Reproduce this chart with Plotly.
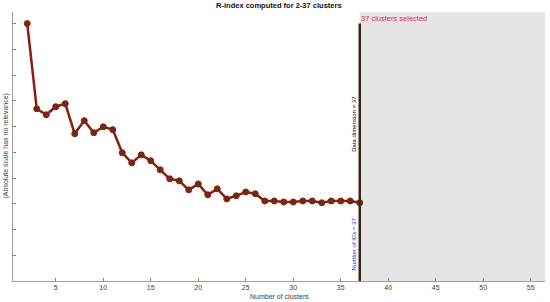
import plotly.graph_objects as go

# R-index per number of clusters (arbitrary units)
n_clusters = list(range(2, 38))
r_index = [10.0, 6.69, 6.46, 6.77, 6.89, 5.72, 6.23, 5.76, 5.99, 5.88,
           4.98, 4.59, 4.90, 4.67, 4.32, 3.97, 3.89, 3.54, 3.77, 3.35,
           3.58, 3.19, 3.31, 3.46, 3.39, 3.11, 3.11, 3.07, 3.07, 3.11,
           3.11, 3.04, 3.11, 3.11, 3.11, 3.04]
selected = 37
x_ticks = [5, 10, 15, 20, 25, 30, 35, 40, 45, 50, 55]
y_ticks = list(range(0, 11))

FONT = "Liberation Sans, Arial, sans-serif"

fig = go.Figure()

fig.add_trace(go.Scatter(
    x=n_clusters, y=r_index,
    mode="lines+markers",
    line={"color": "#8b1e0e", "width": 2.5},
    marker={"size": 6, "color": "#6a2e10", "line": {"color": "#8b1e0e", "width": 1}},
    showlegend=False,
    hoverinfo="x+y",
))

# zone beyond the selected number of clusters
fig.add_shape(type="rect", xref="x", yref="paper", x0=selected, x1=56.5, y0=0, y1=1,
              fillcolor="#e5e5e5", line={"width": 0}, layer="below")
fig.add_shape(type="line", xref="x", yref="y", x0=selected, x1=selected, y0=0, y1=10.0,
              line={"color": "#3a2818", "width": 2.5})

fig.add_annotation(x=selected, xref="x", y=0.975, yref="paper",
                   text="37 clusters selected", showarrow=False,
                   xanchor="left", yanchor="middle", xshift=-1,
                   font={"family": FONT, "size": 7.5, "color": "#e03030"})
fig.add_annotation(x=selected, xref="x", y=6.1, yref="y",
                   text="Data dimension = 37", showarrow=False, textangle=-90,
                   xanchor="right", yanchor="middle", xshift=-1,
                   font={"family": FONT, "size": 6, "color": "#000000"})
fig.add_annotation(x=selected, xref="x", y=1.45, yref="y",
                   text="Number of ICs = 37", showarrow=False, textangle=-90,
                   xanchor="right", yanchor="middle", xshift=-1,
                   font={"family": FONT, "size": 6, "color": "#2020e0"})

# axis titles placed by hand
fig.add_annotation(x=0.5, xref="paper", y=0, yref="paper", yshift=-10,
                   text="Number of clusters", showarrow=False,
                   xanchor="center", yanchor="top",
                   font={"family": FONT, "size": 7, "color": "#404040"})
fig.add_annotation(x=0, xref="paper", y=0.5, yref="paper", xshift=-2,
                   text="(Absolute scale has no relevance)", showarrow=False,
                   textangle=-90, xanchor="right", yanchor="middle",
                   font={"family": FONT, "size": 7, "color": "#404040"})

fig.update_layout(
    width=550, height=302,
    margin={"l": 13, "r": 5, "t": 12, "b": 21, "autoexpand": False},
    paper_bgcolor="white", plot_bgcolor="white",
    font={"family": FONT, "size": 7, "color": "#404040"},
    title={"text": "<b>R-index computed for 2-37 clusters</b>", "x": 0.507, "xanchor": "center",
           "y": 0.99, "yanchor": "top", "font": {"size": 7.5, "color": "#111111"}},
    xaxis={"range": [0.5, 56.5], "tickvals": x_ticks, "ticks": "inside", "ticklen": 3,
           "tickcolor": "#808080", "showline": True, "linecolor": "#a0a0a0", "linewidth": 1,
           "showgrid": False, "zeroline": False, "automargin": False},
    yaxis={"range": [0, 10.45], "tickvals": y_ticks, "showticklabels": False,
           "ticks": "inside", "ticklen": 3, "tickcolor": "#808080",
           "showline": True, "linecolor": "#a0a0a0", "linewidth": 1,
           "showgrid": False, "zeroline": False, "automargin": False},
)

# drop the page's default body margin so the figure sits at the window corner
fig.write_html("out.html", config={"displayModeBar": False},
               post_script="document.body.style.margin='0';")
